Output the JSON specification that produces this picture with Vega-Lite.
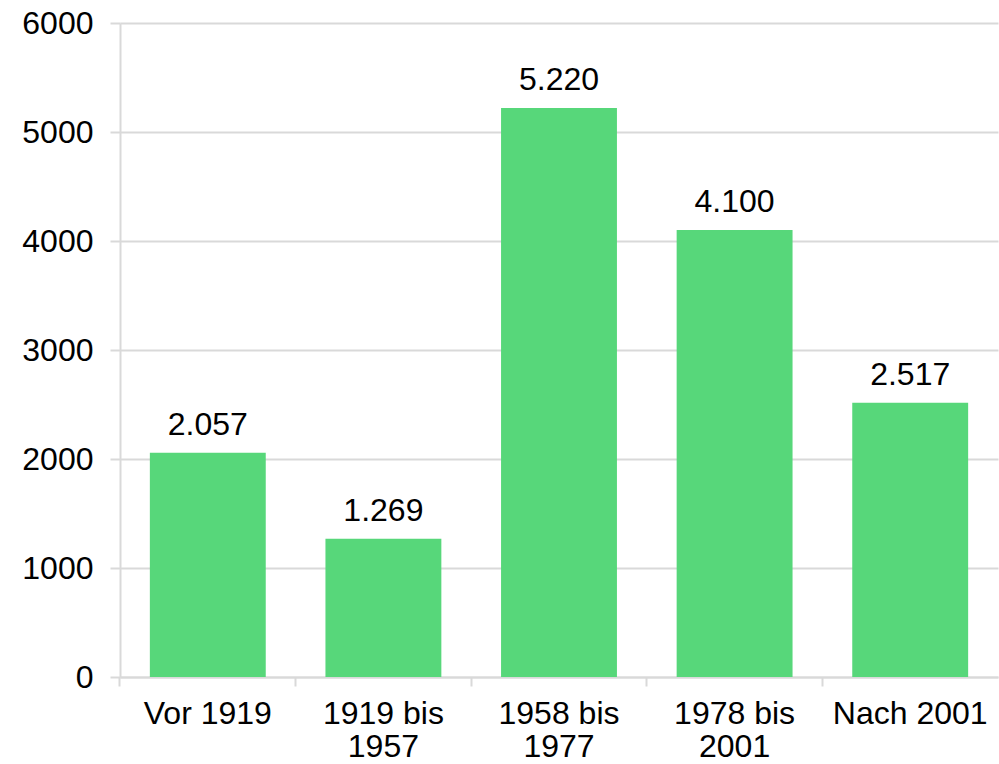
{
  "$schema": "https://vega.github.io/schema/vega-lite/v6.json",
  "width": 878,
  "height": 654,
  "autosize": {"type": "none"},
  "padding": {"left": 120, "top": 23, "right": 1, "bottom": 87},
  "background": "white",
  "config": {
    "view": {"stroke": null},
    "font": "Liberation Sans"
  },
  "data": {
    "values": [
      {"kategorie": "Vor 1919", "wert": 2057},
      {"kategorie": "1919 bis 1957", "wert": 1269},
      {"kategorie": "1958 bis 1977", "wert": 5220},
      {"kategorie": "1978 bis 2001", "wert": 4100},
      {"kategorie": "Nach 2001", "wert": 2517}
    ]
  },
  "transform": [
    {"calculate": "replace(format(datum.wert, ','), ',', '.')", "as": "beschriftung"}
  ],
  "encoding": {
    "x": {
      "field": "kategorie",
      "type": "nominal",
      "sort": null,
      "scale": {"paddingInner": 0.34, "paddingOuter": 0.17},
      "axis": {
        "title": null,
        "labelAngle": 0,
        "labelFont": "Liberation Sans",
        "labelFontSize": 32,
        "labelColor": "#000000",
        "labelLineHeight": 33,
        "labelPadding": 12,
        "labelExpr": "indexof(datum.value, ' bis ') > 0 ? [slice(datum.value, 0, 8), slice(datum.value, 9)] : datum.value",
        "bandPosition": -0.2576,
        "tickSize": 9,
        "tickColor": "#d9d9d9",
        "tickWidth": 2,
        "domainColor": "#d9d9d9",
        "domainWidth": 2,
        "grid": false
      }
    },
    "y": {
      "field": "wert",
      "type": "quantitative",
      "scale": {"domain": [0, 6000], "nice": false},
      "axis": {
        "title": null,
        "values": [0, 1000, 2000, 3000, 4000, 5000, 6000],
        "format": "d",
        "labelFont": "Liberation Sans",
        "labelFontSize": 32,
        "labelColor": "#000000",
        "labelPadding": 17,
        "tickSize": 10,
        "tickColor": "#d9d9d9",
        "tickWidth": 2,
        "domainColor": "#d9d9d9",
        "domainWidth": 2,
        "grid": true,
        "gridColor": "#d9d9d9",
        "gridWidth": 2
      }
    }
  },
  "layer": [
    {"mark": {"type": "bar", "color": "#57D77A"}},
    {
      "mark": {"type": "text", "baseline": "alphabetic", "dy": -18, "fontSize": 32, "font": "Liberation Sans", "stroke": "white", "strokeWidth": 10, "color": "white"},
      "encoding": {"text": {"field": "beschriftung"}}
    },
    {
      "mark": {"type": "text", "baseline": "alphabetic", "dy": -18, "fontSize": 32, "font": "Liberation Sans", "color": "#000000"},
      "encoding": {"text": {"field": "beschriftung"}}
    }
  ]
}
